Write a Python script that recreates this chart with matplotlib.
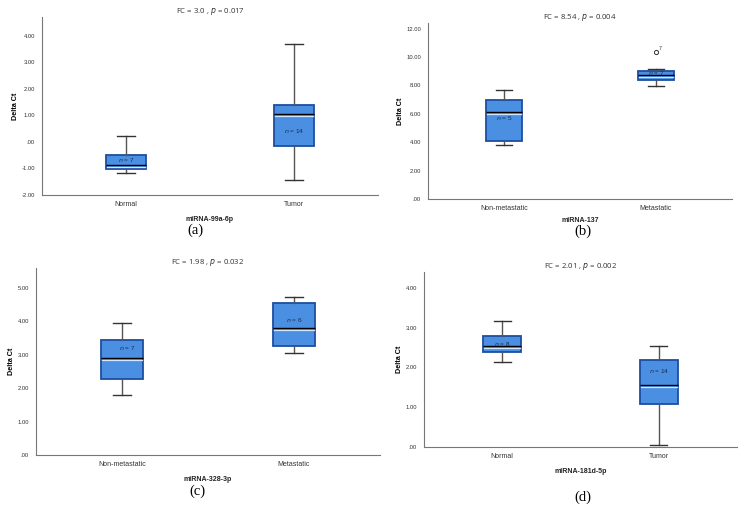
import matplotlib
matplotlib.use('Agg')
import matplotlib.pyplot as plt

W, H = 746, 507

# panel (a) miRNA-99a-6p
a_groups = ['Normal', 'Tumor']
a_whislo = [-1.18, -1.42]
a_q1 = [-1.02, -0.17]
a_med = [-0.88, 1.04]
a_q3 = [-0.50, 1.38]
a_whishi = [0.22, 3.68]
a_n = [7, 14]
a_npos = [-0.68, 0.41]

# panel (b) miRNA-137
b_groups = ['Non-metastatic', 'Metastatic']
b_whislo = [3.78, 7.94]
b_q1 = [4.07, 8.37]
b_med = [6.12, 8.72]
b_q3 = [6.95, 9.05]
b_whishi = [7.66, 9.17]
b_n = [5, 7]
b_npos = [5.74, 8.86]
b_outlier = [[], [10.35]]

# panel (c) miRNA-328-3p
c_groups = ['Non-metastatic', 'Metastatic']
c_whislo = [1.79, 3.06]
c_q1 = [2.29, 3.26]
c_med = [2.90, 3.80]
c_q3 = [3.43, 4.54]
c_whishi = [3.95, 4.72]
c_n = [7, 6]
c_npos = [3.19, 4.03]

# panel (d) miRNA-181d-5p
d_groups = ['Normal', 'Tumor']
d_whislo = [2.13, 0.06]
d_q1 = [2.38, 1.08]
d_med = [2.53, 1.57]
d_q3 = [2.78, 2.18]
d_whishi = [3.18, 2.55]
d_n = [8, 14]
d_npos = [2.59, 1.92]

FILL = '#4a8fe2'
EDGE = '#1d4e9e'
GREY = '#555555'


def axes_px(left, top, right, bottom):
    return fig.add_axes([left / W, 1 - bottom / H, (right - left) / W, (bottom - top) / H])


def fmt(t):
    s = '%.2f' % t
    if s.startswith('0.'):
        s = s[1:]
    return s


def panel(ax, groups, whislo, q1, med, q3, whishi, n, npos, ylim, yticks, title, xlabel,
          fliers=None, nx_shift=(0, 0), xlabelpad=6):
    stats = []
    for i in range(len(groups)):
        stats.append({'whislo': whislo[i], 'q1': q1[i], 'med': med[i], 'q3': q3[i],
                      'whishi': whishi[i], 'fliers': fliers[i] if fliers else []})
    span = ylim[1] - ylim[0]
    bp = ax.bxp(stats, positions=[1, 2], widths=0.24, patch_artist=True,
                showfliers=True,
                boxprops=dict(facecolor=FILL, edgecolor=EDGE, linewidth=1.3),
                medianprops=dict(color='black', linewidth=1.0),
                whiskerprops=dict(color=GREY, linewidth=1.0),
                capprops=dict(color='#333333', linewidth=1.0),
                flierprops=dict(marker='o', markerfacecolor='none', markeredgecolor='#333333',
                                markersize=3, markeredgewidth=0.7))
    for cap in bp['caps']:
        x0, x1 = cap.get_xdata()
        c = (x0 + x1) / 2
        cap.set_xdata([c - 0.055, c + 0.055])
    # light line just under the median
    for i in range(len(groups)):
        ax.plot([i + 1 - 0.115, i + 1 + 0.115], [med[i] - span * 0.012] * 2,
                color='#cfe8ff', linewidth=0.9, zorder=4)
    for i in range(len(groups)):
        ax.text(i + 1 + nx_shift[i], npos[i], '$n$ = %d' % n[i], ha='center', va='center',
                fontsize=4.6, color='#1a2a45', family='Liberation Sans', zorder=5)
    if fliers:
        for i, fl in enumerate(fliers):
            for v in fl:
                ax.text(i + 1 + 0.02, v + span * 0.01, '7', fontsize=3.5, color='#333333')
    ax.set_xlim(0.5, 2.5)
    ax.set_ylim(*ylim)
    ax.set_yticks(yticks)
    ax.set_yticklabels([fmt(t) for t in yticks])
    ax.set_xticks([1, 2])
    ax.set_xticklabels(groups)
    ax.tick_params(axis='y', length=0, labelsize=4.2, labelcolor='#333333', pad=5)
    ax.tick_params(axis='x', length=0, labelsize=5, labelcolor='#333333', pad=4)
    for t in ax.get_xticklabels() + ax.get_yticklabels():
        t.set_family('Liberation Sans')
    for s in ['top', 'right']:
        ax.spines[s].set_visible(False)
    for s in ['left', 'bottom']:
        ax.spines[s].set_color('#777777')
        ax.spines[s].set_linewidth(0.8)
    ax.set_ylabel('Delta Ct', fontsize=5.2, fontweight='bold', family='Liberation Sans', labelpad=2)
    ax.set_xlabel(xlabel, fontsize=5, fontweight='bold', family='Liberation Sans',
                  color='#222222', labelpad=xlabelpad)
    ax.set_title(title, fontsize=5.6, color='#333333', family='Open Sans', pad=3)


fig = plt.figure(figsize=(W / 100, H / 100), dpi=100)
fig.patch.set_facecolor('white')

ax_a = axes_px(42, 17, 378, 195)
panel(ax_a, a_groups, a_whislo, a_q1, a_med, a_q3, a_whishi, a_n, a_npos,
      (-2.0, 4.7), [-2, -1, 0, 1, 2, 3, 4], 'FC = 3.0 , $p$ = 0.017', 'miRNA-99a-6p')

ax_b = axes_px(428, 23, 732, 199)
panel(ax_b, b_groups, b_whislo, b_q1, b_med, b_q3, b_whishi, b_n, b_npos,
      (0, 12.4), [0, 2, 4, 6, 8, 10, 12], 'FC = 8.54 , $p$ = 0.004', 'miRNA-137',
      fliers=b_outlier, xlabelpad=4)

ax_c = axes_px(36, 268, 380, 455)
panel(ax_c, c_groups, c_whislo, c_q1, c_med, c_q3, c_whishi, c_n, c_npos,
      (0, 5.6), [0, 1, 2, 3, 4, 5], 'FC = 1.98 , $p$ = 0.032', 'miRNA-328-3p',
      nx_shift=(0.03, 0))

ax_d = axes_px(424, 272, 737, 447)
panel(ax_d, d_groups, d_whislo, d_q1, d_med, d_q3, d_whishi, d_n, d_npos,
      (0, 4.4), [0, 1, 2, 3, 4], 'FC = 2.01 , $p$ = 0.002', 'miRNA-181d-5p')

for lbl, x, y in [('(a)', 195, 230), ('(b)', 583, 231), ('(c)', 197, 491), ('(d)', 583, 497)]:
    fig.text(x / W, 1 - y / H, lbl, fontsize=10.5, family='Liberation Serif',
             ha='center', va='center')

fig.savefig('out.png', dpi=100)
